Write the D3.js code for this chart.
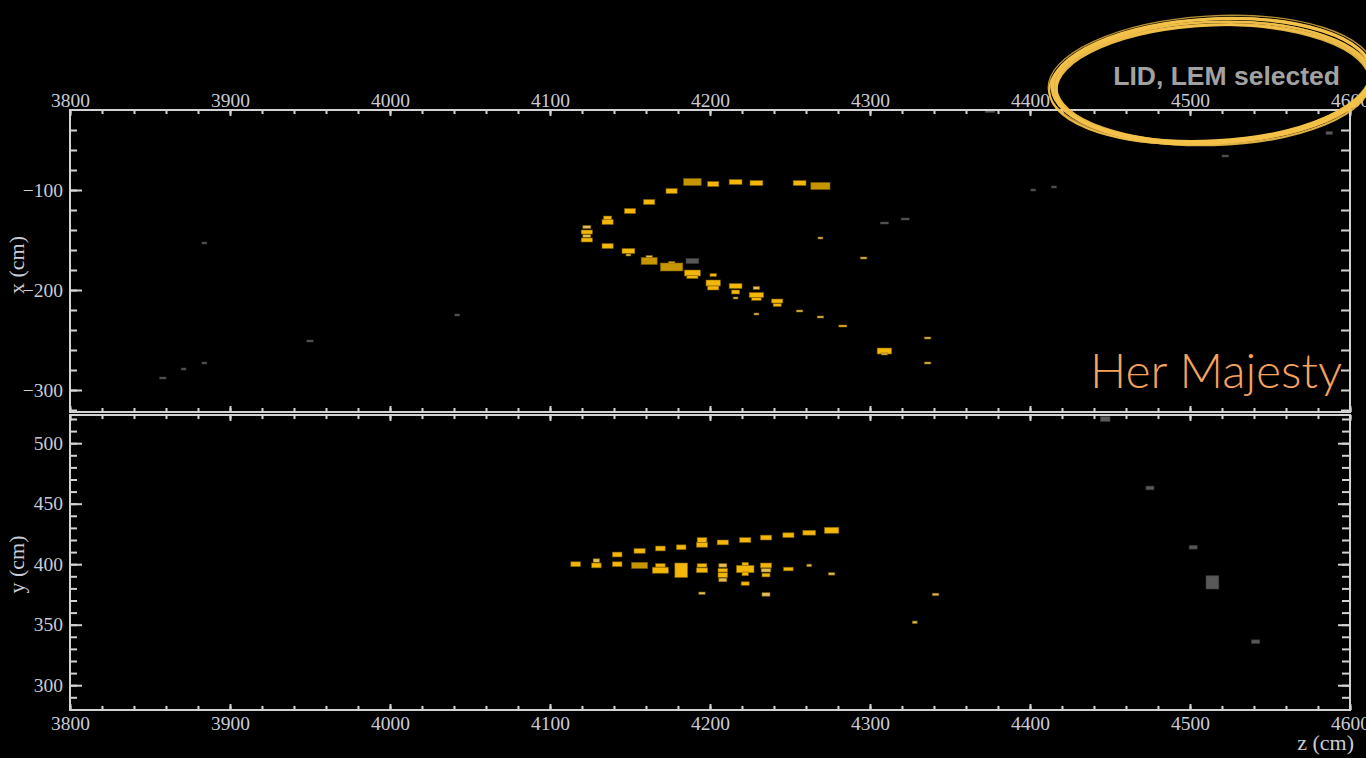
<!DOCTYPE html>
<html><head><meta charset="utf-8">
<script src="https://cdn.jsdelivr.net/npm/d3@7"></script>
<style>
html,body{margin:0;padding:0;background:#000;}
svg{display:block;}
</style></head>
<body>
<svg id="chart" width="1366" height="758"></svg>
<script>
// ---------- DATA ----------
// Shared z axis (cm)
const zTicksMajor = [3800, 3900, 4000, 4100, 4200, 4300, 4400, 4500, 4600];
const xTicksMajor = [-100, -200, -300];
const yTicksMajor = [300, 350, 400, 450, 500];

// Top view (x vs z) hits: z, x, extent in z, extent in x, charge class (2 high, 1 normal, 0 low, -1 not selected)
const topZ  = [4123,4123,4123,4123,4136,4136,4150,4162,4176,4189,4202,4216,4229,4256,4269,
               4136,4149,4149,4162,4162,4176,4176,4189,4189,4202,4202,4202,4216,4216,4216,
               4229,4229,4229,4229,4242,4242,4256,4269,4283,4296,4269,4309,4309,4336,4336,
               4189,4309,4322,3884,4042,3950,3884,3871,3858,4402,4415,4375,4522,4587];
const topX  = [-137,-142,-146,-150,-128,-132,-121,-112,-101,-92,-94,-92,-93,-93,-96,
               -156,-161,-165,-167,-171,-173,-177,-183,-187,-185,-193,-198,-196,-202,-208,
               -198,-205,-209,-224,-211,-215,-221,-227,-236,-168,-148,-261,-264,-248,-273,
               -171,-133,-129,-153,-225,-251,-273,-279,-288,-100,-97,-21,-66,-43];
const topDZ = [5,7,5,7,5,7,7,7,7,11,7,8,8,8,12,
               7,8,3,4,10,4,14,10,7,4,9,7,8,5,3,
               4,9,6,3,7,5,4,4,5,4,3,9,4,4,4,
               8,5,5,3,3,4,3,3,4,3,3,6,4,4];
const topDX = [3,4,3,4,4,5,5,5,5,7,5,5,5,5,7,
               5,5,2,3,7,3,8,6,3,3,6,4,5,4,2,
               3,5,3,2,4,3,2,2,2,2,2,6,2,2,2,
               5,2,2,2,2,2,2,2,2,2,2,3,2,3];
const topQ  = [0,1,0,1,1,1,1,1,1,2,1,1,1,1,2,
               1,1,0,0,2,0,2,1,1,1,1,1,1,1,0,
               0,1,1,0,1,1,0,0,1,0,0,1,0,0,0,
               -1,-1,-1,-1,-1,-1,-1,-1,-1,-1,-1,-1,-1,-1];

// Side view (y vs z) hits
const botZ  = [4116,4129,4129,4142,4142,4156,4156,4169,4169,4169,4182,4182,
               4195,4195,4195,4195,4195,4208,4208,4208,4208,4208,
               4222,4222,4222,4222,4222,4235,4235,4235,4235,4235,
               4249,4249,4262,4262,4276,4276,4328,4341,
               4447,4475,4502,4514,4541];
const botY  = [400,403,399,408,400,411,399,413,399,395,414,395,
               420,416,399,395,376,418,399,395,391,387,
               420,400,396,392,384,422,399,395,391,375,
               424,396,426,399,428,392,352,375,
               520,463,414,385,336];
const botDZ = [6,4,6,6,6,7,10,6,6,10,6,8,
               6,7,6,7,4,7,5,6,6,5,
               7,4,11,4,5,7,7,6,5,5,
               7,6,8,3,9,4,3,4,
               6,5,5,8,5];
const botDY = [4,3,4,4,4,4,5,4,3,5,4,12,
               4,4,3,4,2,4,3,3,4,3,
               4,3,6,3,3,4,4,3,3,3,
               4,3,4,2,5,2,2,2,
               4,3,3,11,3];
const botQ  = [1,0,1,1,1,1,2,1,1,1,1,1,
               1,1,1,1,0,1,0,1,1,0,
               1,1,1,1,1,1,1,0,1,0,
               1,1,1,0,1,0,0,0,
               -1,-1,-1,-1,-1];

const chargeClasses = [-1, 0, 1, 2];
const chargeColors  = ["#585858", "#e3bd55", "#f4b709", "#c69600"];

// ---------- DRAWING ----------
const svg = d3.select("#chart");
svg.append("rect").attr("width",1366).attr("height",758).attr("fill","#000");

const L = 70, R = 1350;
const topT = 110, topB = 412, botT = 415, botB = 710;

const zScale = d3.scaleLinear().domain([3800, 4600]).range([L, R]);
const xScale = d3.scaleLinear().domain([-20, -322]).range([topT, topB]);
const yScale = d3.scaleLinear().domain([523.3, 279.5]).range([botT, botB]);
const color  = d3.scaleOrdinal().domain(chargeClasses).range(chargeColors);

const axisCol = "#d2d2d2";
const labelCol = "#c9ccd6";
const serif = "'Liberation Serif','DejaVu Serif',serif";

function styleAxis(g) {
  g.select(".domain").remove();
  g.selectAll(".tick line").attr("stroke", axisCol).attr("stroke-width", 2);
  g.selectAll(".tick text").attr("fill", labelCol).style("font-family", serif).style("font-size", "19.5px");
}

function rng(a, b, s) { return d3.range(a, b + s / 2, s); }

// hits
function drawHits(g, zs, vs, dzs, dvs, qs, vScale) {
  const idx = d3.range(zs.length).sort((a, b) => (qs[a] === -1 ? -1 : 0) - (qs[b] === -1 ? -1 : 0));
  g.selectAll("rect.hit").data(idx).join("rect")
    .attr("class", "hit")
    .attr("x", i => zScale(zs[i] - dzs[i] / 2))
    .attr("width", i => zScale(zs[i] + dzs[i] / 2) - zScale(zs[i] - dzs[i] / 2))
    .attr("y", i => Math.min(vScale(vs[i] + dvs[i] / 2), vScale(vs[i] - dvs[i] / 2)))
    .attr("height", i => Math.abs(vScale(vs[i] + dvs[i] / 2) - vScale(vs[i] - dvs[i] / 2)))
    .attr("fill", i => color(qs[i]))
    .attr("stroke", i => qs[i] === -1 ? "#3a3a3a" : "#7a5c00")
    .attr("stroke-width", 0.8)
    .attr("stroke-opacity", 0.7);
}

const gTop = svg.append("g");
const gBot = svg.append("g");
drawHits(gTop, topZ, topX, topDZ, topDX, topQ, xScale);
drawHits(gBot, botZ, botY, botDZ, botDY, botQ, yScale);

// frames
[[topT, topB], [botT, botB]].forEach(([t, b]) => {
  svg.append("rect").attr("x", L).attr("y", t).attr("width", R - L).attr("height", b - t)
    .attr("fill", "none").attr("stroke", axisCol).attr("stroke-width", 2);
});

// ---- z axes ----
svg.append("g").attr("transform", `translate(0,${topT})`)
  .call(d3.axisTop(zScale).tickValues(rng(3800, 4600, 20)).tickSizeInner(-4).tickSizeOuter(0).tickFormat(""))
  .call(styleAxis);
svg.append("g").attr("transform", `translate(0,${topT})`)
  .call(d3.axisTop(zScale).tickValues(zTicksMajor).tickSizeInner(-6).tickSizeOuter(0).tickPadding(3).tickFormat(d3.format("d")))
  .call(styleAxis);
svg.append("g").attr("transform", `translate(0,${topB})`)
  .call(d3.axisBottom(zScale).tickValues(rng(3800, 4600, 20)).tickSizeInner(-4).tickSizeOuter(0).tickFormat(""))
  .call(styleAxis);
svg.append("g").attr("transform", `translate(0,${topB})`)
  .call(d3.axisBottom(zScale).tickValues(zTicksMajor).tickSizeInner(-6).tickSizeOuter(0).tickFormat(""))
  .call(styleAxis);
svg.append("g").attr("transform", `translate(0,${botT})`)
  .call(d3.axisTop(zScale).tickValues(rng(3800, 4600, 20)).tickSizeInner(-4).tickSizeOuter(0).tickFormat(""))
  .call(styleAxis);
svg.append("g").attr("transform", `translate(0,${botT})`)
  .call(d3.axisTop(zScale).tickValues(zTicksMajor).tickSizeInner(-6).tickSizeOuter(0).tickFormat(""))
  .call(styleAxis);
svg.append("g").attr("transform", `translate(0,${botB})`)
  .call(d3.axisBottom(zScale).tickValues(rng(3800, 4600, 20)).tickSizeInner(-4).tickSizeOuter(0).tickFormat(""))
  .call(styleAxis);
svg.append("g").attr("transform", `translate(0,${botB})`)
  .call(d3.axisBottom(zScale).tickValues(zTicksMajor).tickSizeInner(-6).tickSizeOuter(0).tickPadding(6).tickFormat(d3.format("d")))
  .call(styleAxis);

// ---- x axis (top panel) ----
svg.append("g").attr("transform", `translate(${L},0)`)
  .call(d3.axisLeft(xScale).tickValues(rng(-320, -40, 20)).tickSizeInner(-7).tickSizeOuter(0).tickFormat(""))
  .call(styleAxis);
svg.append("g").attr("transform", `translate(${L},0)`)
  .call(d3.axisLeft(xScale).tickValues(xTicksMajor).tickSizeInner(-12).tickSizeOuter(0).tickPadding(7).tickFormat(d3.format("d")))
  .call(styleAxis);
svg.append("g").attr("transform", `translate(${R},0)`)
  .call(d3.axisRight(xScale).tickValues(rng(-320, -40, 20)).tickSizeInner(-9).tickSizeOuter(0).tickFormat(""))
  .call(styleAxis);

// ---- y axis (bottom panel) ----
svg.append("g").attr("transform", `translate(${L},0)`)
  .call(d3.axisLeft(yScale).tickValues(rng(290, 520, 10)).tickSizeInner(-7).tickSizeOuter(0).tickFormat(""))
  .call(styleAxis);
svg.append("g").attr("transform", `translate(${L},0)`)
  .call(d3.axisLeft(yScale).tickValues(yTicksMajor).tickSizeInner(-12).tickSizeOuter(0).tickPadding(7).tickFormat(d3.format("d")))
  .call(styleAxis);
svg.append("g").attr("transform", `translate(${R},0)`)
  .call(d3.axisRight(yScale).tickValues(rng(290, 520, 10)).tickSizeInner(-8).tickSizeOuter(0).tickFormat(""))
  .call(styleAxis);
svg.append("g").attr("transform", `translate(${R},0)`)
  .call(d3.axisRight(yScale).tickValues(yTicksMajor).tickSizeInner(-12).tickSizeOuter(0).tickFormat(""))
  .call(styleAxis);

// axis titles
svg.append("text").attr("transform", `translate(24,${(topT + topB) / 2 + 4}) rotate(-90)`)
  .attr("text-anchor", "middle").attr("fill", labelCol)
  .style("font-family", serif).style("font-size", "22px").text("x (cm)");
svg.append("text").attr("transform", `translate(24,${(botT + botB) / 2 + 2}) rotate(-90)`)
  .attr("text-anchor", "middle").attr("fill", labelCol)
  .style("font-family", serif).style("font-size", "22px").text("y (cm)");
svg.append("text").attr("x", 1354).attr("y", 750).attr("text-anchor", "end").attr("fill", labelCol)
  .style("font-family", serif).style("font-size", "22px").text("z (cm)");

// ---- annotations ----
svg.append("text").attr("x", 1090).attr("y", 388)
  .attr("fill", "#f7a35c").style("font-family", "Lato, 'Open Sans', sans-serif").style("font-weight", 300)
  .style("font-size", "48px").attr("textLength", 252).attr("lengthAdjust", "spacingAndGlyphs")
  .text("Her Majesty");

svg.append("text").attr("x", 1340).attr("y", 85).attr("text-anchor", "end")
  .attr("fill", "#a2a2a2").style("font-family", "'Liberation Sans', Arial, sans-serif").style("font-weight", 700)
  .style("font-size", "26.5px").text("LID, LEM selected");

// hand-drawn ellipse (several brush strokes, heavier along the bottom)
const strokes = [
  {dx: 0, dy: 0, rx: 160, ry: 61, w: 3.2, o: 1.0, r: -3},
  {dx: 2, dy: 2, rx: 158, ry: 60, w: 2.6, o: 0.95, r: -2},
  {dx: -2, dy: 1, rx: 161, ry: 62, w: 2.0, o: 0.85, r: -4},
  {dx: 1, dy: 4, rx: 157, ry: 59, w: 3.0, o: 0.95, r: -2.5},
  {dx: -1, dy: -1, rx: 163, ry: 63, w: 1.4, o: 0.75, r: -3.5},
  {dx: 0, dy: 5, rx: 158, ry: 60, w: 2.4, o: 0.9, r: -1.5},
  {dx: -3, dy: 3, rx: 160, ry: 61, w: 1.6, o: 0.8, r: -3}
];
const eg = svg.append("g");
strokes.forEach(s => {
  eg.append("ellipse")
    .attr("cx", 1212 + s.dx).attr("cy", 80 + s.dy).attr("rx", s.rx).attr("ry", s.ry)
    .attr("transform", `rotate(${s.r},${1212 + s.dx},${80 + s.dy})`)
    .attr("fill", "none").attr("stroke", "#f4c24a").attr("stroke-width", s.w).attr("stroke-opacity", s.o);
});
</script>
</body></html>
